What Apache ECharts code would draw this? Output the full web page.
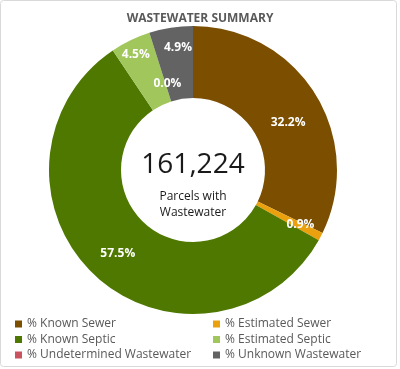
<!DOCTYPE html>
<html>
<head>
<meta charset="utf-8">
<script src="https://cdn.jsdelivr.net/npm/echarts@6/dist/echarts.min.js"></script>
<style>
html,body{margin:0;padding:0;background:#fff;}
#chart{width:400px;height:369px;}
</style>
</head>
<body>
<div id="chart"></div>
<script>
var categories = ['% Known Sewer', '% Estimated Sewer', '% Known Septic', '% Estimated Septic', '% Undetermined Wastewater', '% Unknown Wastewater'];
var values = [32.2, 0.9, 57.5, 4.5, 0.0, 4.9];
var colors = ['#7B4E00', '#EBA10E', '#4E7800', '#A0C65C', '#C9535F', '#636363'];
var totalParcels = '161,224';
var centerLines = ['Parcels with', 'Wastewater'];
var titleText = 'WASTEWATER SUMMARY';
var labelShift = [[1, 11], [9, 3], [0, 2], [-9, -15], [8, 19], [2, -13]];

var chart = echarts.init(document.getElementById('chart'));
var font = '"Open Sans", sans-serif';
function makeLegend(items, left) {
  return {
    data: items,
    orient: 'vertical', left: left, top: 317, height: 80, width: 190,
    itemWidth: 7, itemHeight: 7, itemGap: 1.5, padding: 0,
    icon: 'rect',
    textStyle: { fontFamily: font, fontSize: 12, color: '#595959', lineHeight: 14 }
  };
}
var option = {
  animation: false,
  color: colors,
  title: {
    text: titleText,
    left: 'center',
    top: 8,
    textStyle: { fontFamily: font, fontSize: 12, fontWeight: 'bold', color: '#595959' }
  },
  legend: [
    makeLegend([categories[0], categories[2], categories[4]], 15),
    makeLegend([categories[1], categories[3], categories[5]], 213)
  ],
  graphic: [
    { type: 'rect', shape: { x: 0.5, y: 0.5, width: 396, height: 366, r: 3 }, style: { fill: 'none', stroke: '#D9D9D9', lineWidth: 1 }, silent: true, z: -1 },
    { type: 'text', x: 193, y: 165, style: { text: totalParcels, fontFamily: font, fontSize: 28, fill: '#1a1a1a', align: 'center', verticalAlign: 'middle' } },
    { type: 'text', x: 193, y: 197, style: { text: centerLines[0], fontFamily: font, fontSize: 12, fill: '#1a1a1a', align: 'center', verticalAlign: 'middle' } },
    { type: 'text', x: 193, y: 213, style: { text: centerLines[1], fontFamily: font, fontSize: 12, fill: '#1a1a1a', align: 'center', verticalAlign: 'middle' } }
  ],
  series: [{
    type: 'pie',
    center: [193, 170],
    radius: [72, 144],
    startAngle: 90,
    clockwise: true,
    avoidLabelOverlap: false,
    label: {
      show: true,
      position: 'inside',
      fontFamily: font,
      fontSize: 12,
      fontWeight: 'bold',
      color: '#ffffff',
      formatter: function (p) { return p.value.toFixed(1) + '%'; }
    },
    labelLayout: function (p) {
      var s = labelShift[p.dataIndex];
      return { dx: s[0], dy: s[1] };
    },
    labelLine: { show: false },
    emphasis: { disabled: true },
    itemStyle: { borderWidth: 0 },
    data: categories.map(function (c, i) { return { name: c, value: values[i] }; })
  }]
};
chart.setOption(option);
</script>
</body>
</html>
